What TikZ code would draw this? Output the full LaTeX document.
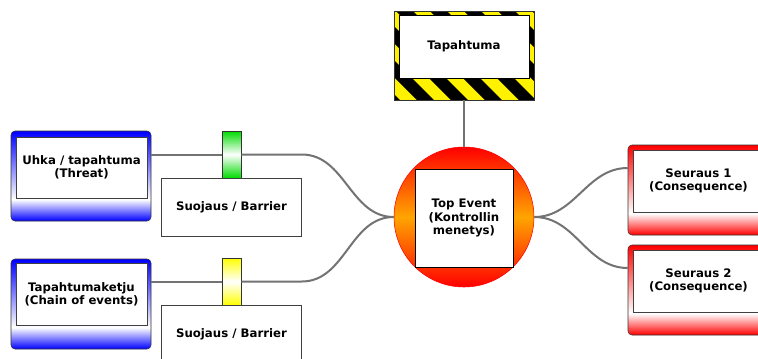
\documentclass[tikz,border=0pt]{standalone}
\usepackage{fontspec}
\setmainfont{DejaVu Sans}
\usetikzlibrary{positioning}

\pgfdeclareverticalshading{bluefade}{100bp}{color(0bp)=(blue); color(25bp)=(blue); color(37bp)=(white); color(75bp)=(blue); color(100bp)=(blue)}
\pgfdeclareverticalshading{redfade}{100bp}{color(0bp)=(red); color(25bp)=(red); color(37bp)=(white); color(75bp)=(red); color(100bp)=(red)}
\definecolor{bargreen}{RGB}{0,220,0}
\definecolor{eventorange}{RGB}{255,165,0}
\newcommand{\boxfont}{\fontsize{8.8}{10}\selectfont\bfseries}

\tikzset{
  link/.style={draw=black!55, line width=1.5pt},
  outerbox/.style={draw=black!80, shade, rounded corners=3pt, minimum width=105pt, minimum height=67.5pt, inner sep=0pt},
  textbox/.style={draw=black!75, fill=white, inner sep=0pt, align=center, font=\boxfont},
  bar/.style={draw=black!80, minimum width=14.25pt, minimum height=35.25pt, inner sep=0pt},
  hazard/.style={draw=black!80, inner sep=0pt, path picture={
      \fill[yellow] (path picture bounding box.south west) rectangle (path picture bounding box.north east);
      \foreach \i in {-4,...,5}
        \fill[black] ([xshift=\i*25.5pt+1.5pt]path picture bounding box.north west) -- ++(12.75pt,0) -- ++(67.5pt,-67.5pt) -- ++(-12.75pt,0) -- cycle;
    }},
}

\begin{document}
\begin{tikzpicture}[x=0.75pt, y=-0.75pt]
    \clip (0,0) rectangle (758,358);
    \fill[white] (0,0) rectangle (758,358);

    % event at the top
    \node[hazard, minimum width=105pt, minimum height=66.75pt] (evt) at (464,55.5) {};
    \node[textbox, draw=black, minimum width=97.5pt, minimum height=47.25pt] (evtin) at (464,46.5) {Tapahtuma};

    % top event
    \node[circle, draw=red, top color=red, bottom color=red, middle color=eventorange, minimum size=105pt, inner sep=0pt] (top) at (464,217) {};
    \node[textbox, draw=black, minimum size=73.5pt] (topin) at (464,218) {Top Event\\(Kontrollin\\menetys)};

    % threats
    \node[outerbox, shading=bluefade] (th1) at (81,176) {};
    \node[textbox, minimum width=98.25pt, minimum height=45.75pt] (th1in) at (81.5,167.5) {Uhka / tapahtuma\\(Threat)};
    \node[outerbox, shading=bluefade] (th2) at (81,304) {};
    \node[textbox, minimum width=98.25pt, minimum height=46.5pt] (th2in) at (81.5,294) {Tapahtumaketju\\(Chain of events)};

    % barriers
    \node[bar, top color=bargreen, bottom color=bargreen, middle color=white] (bar1) at (231.5,154.5) {};
    \node[textbox, minimum width=105pt, minimum height=43.5pt, below=0pt of bar1] (sup1) {Suojaus / Barrier};
    \node[bar, top color=yellow, bottom color=yellow, middle color=white] (bar2) at (231.5,281.5) {};
    \node[textbox, minimum width=105pt, minimum height=43.5pt, below=0pt of bar2] (sup2) {Suojaus / Barrier};

    % consequences
    \node[outerbox, shading=redfade] (con1) at (698,190) {};
    \node[textbox, minimum width=98.25pt, minimum height=46.5pt] (con1in) at (698.5,181) {Seuraus 1\\(Consequence)};
    \node[outerbox, shading=redfade] (con2) at (698,290) {};
    \node[textbox, minimum width=98.25pt, minimum height=46.5pt] (con2in) at (698.5,281) {Seuraus 2\\(Consequence)};

    \draw[link] (evt) -- (top);
    \draw[link] (th1.east |- bar1) -- (bar1.west);
    \draw[link] (bar1.east) -- (bar1 -| sup1.east) to[out=0, in=180] (top.west);
    \draw[link] (th2.east |- bar2) -- (bar2.west);
    \draw[link] (bar2.east) -- (bar2 -| sup2.east) to[out=0, in=180] (top.west);
    \draw[link] (top.east) to[out=0, in=180] ([yshift=16.5pt]con1.west);
    \draw[link] (top.east) to[out=0, in=180] ([yshift=16.5pt]con2.west);
\end{tikzpicture}
\end{document}
